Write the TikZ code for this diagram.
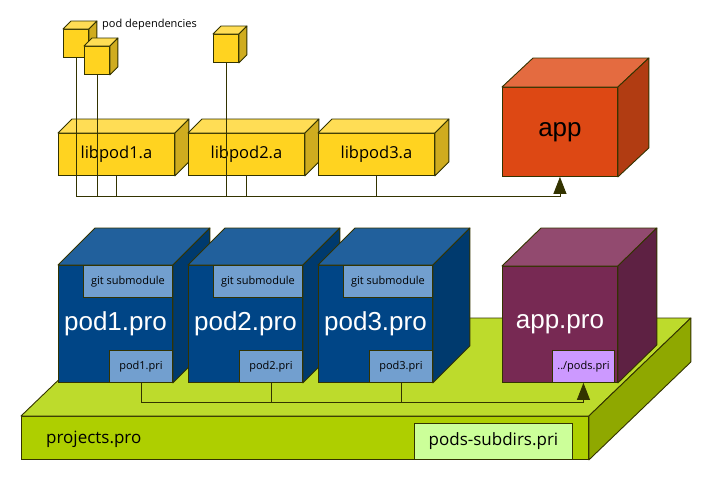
\documentclass[tikz,border=0pt]{standalone}
\usepackage{fontspec}
\setmainfont{Open Sans}
\newfontfamily\bigf{Liberation Sans}
\usetikzlibrary{arrows.meta}
\definecolor{ol}{HTML}{333300}
\definecolor{libF}{HTML}{FFD320}
\definecolor{libT}{HTML}{FFDD55}
\definecolor{libS}{HTML}{CFAC1F}
\definecolor{appF}{HTML}{DD4814}
\definecolor{appT}{HTML}{E46B40}
\definecolor{appS}{HTML}{B13C12}
\definecolor{podF}{HTML}{004586}
\definecolor{podT}{HTML}{21609C}
\definecolor{podS}{HTML}{003A6E}
\definecolor{podL}{HTML}{729FCF}
\definecolor{aproF}{HTML}{772953}
\definecolor{aproT}{HTML}{924A6F}
\definecolor{aproS}{HTML}{5E2143}
\definecolor{aproL}{HTML}{CC99FF}
\definecolor{platF}{HTML}{AECF00}
\definecolor{platT}{HTML}{BDDB2C}
\definecolor{platS}{HTML}{8FA800}
\definecolor{platL}{HTML}{CCFF99}
\newcommand\cubesides[5]{%
  \filldraw[fill=#4, draw=ol, line width=0.9pt, line join=round] (#1.north west) -- ++(#2,-#3) -- ([shift={(#2,-#3)}]#1.north east) -- (#1.north east) -- cycle;
  \filldraw[fill=#5, draw=ol, line width=0.9pt, line join=round] (#1.north east) -- ++(#2,-#3) -- ([shift={(#2,-#3)}]#1.south east) -- (#1.south east) -- cycle;
}
\tikzset{
  ln/.style={draw=ol, line width=0.9pt, rectangle, inner sep=0pt},
  face/.style={ln, anchor=north west},
  lib/.style={face, fill=libF, minimum width=116pt, minimum height=42pt, font=\fontsize{16.5}{18}\selectfont},
  dep/.style={face, fill=libF, minimum width=25pt, minimum height=28pt},
  pod/.style={face, fill=podF, minimum width=114pt, minimum height=117pt, text=white, font=\bigf\fontsize{26}{28}\selectfont},
  sub/.style={ln, font=\fontsize{11}{12}\selectfont},
  conn/.style={draw=ol, line width=0.9pt},
  tip/.style={-{Triangle[length=17pt,width=13pt]}},
}
\begin{document}
\begin{tikzpicture}[x=1pt,y=-1pt]
\useasboundingbox (0,0) rectangle (720,477);
% platform
\node[face, fill=platF, minimum width=567pt, minimum height=43pt] (plat) at (21,416) {};
\cubesides{plat}{102}{98}{platT}{platS}
\node[ln, fill=platL, minimum width=158pt, minimum height=36pt, anchor=south east, font=\fontsize{17}{19}\selectfont] (psd) at ([xshift=-16pt]plat.south east) {pods-subdirs.pri};
\node[anchor=west, inner sep=0pt, font=\fontsize{17}{19}\selectfont] (pj) at (46,439) {projects.pro};
% dependency cubes
\node[dep] (d1) at (63,29) {};
\cubesides{d1}{8}{8}{libT}{libS}
\node[dep] (d2) at (84,46) {};
\cubesides{d2}{8}{8}{libT}{libS}
\node[dep] (d3) at (213,34) {};
\cubesides{d3}{8}{8}{libT}{libS}
\node[anchor=west, inner sep=0pt, font=\fontsize{11}{12}\selectfont] (pdtxt) at (102,25) {pod dependencies};
% libs
\node[lib] (l1) at (58,133) {libpod1.a};
\cubesides{l1}{14}{14}{libT}{libS}
\node[lib] (l2) at (188,133) {libpod2.a};
\cubesides{l2}{14}{14}{libT}{libS}
\node[lib] (l3) at (318,133) {libpod3.a};
\cubesides{l3}{14}{14}{libT}{libS}
% app
\node[face, fill=appF, minimum width=115pt, minimum height=89pt, font=\bigf\fontsize{26}{28}\selectfont] (app) at (502,87) {app};
\cubesides{app}{31}{29}{appT}{appS}
% top connectors
\coordinate (bus1) at (0,196);
\draw[conn, tip] (d1.south) -- (d1.south |- bus1) -| (app.south);
\draw[conn] (d2.south) -- (d2.south |- bus1);
\draw[conn] (d3.south) -- (d3.south |- bus1);
\draw[conn] (l1.south) -- (l1.south |- bus1);
\draw[conn] (l2.south) -- (l2.south |- bus1);
\draw[conn] (l3.south) -- (l3.south |- bus1);
% pods
\node[pod] (p1) at (58,265) {pod1.pro};
\cubesides{p1}{37}{37}{podT}{podS}
\node[sub, fill=podL, minimum width=89pt, minimum height=32pt, anchor=north east] (g1) at (p1.north east) {git submodule};
\node[sub, fill=podL, minimum width=63pt, minimum height=32pt, anchor=south east] (r1) at (p1.south east) {pod1.pri};
\node[pod] (p2) at (188,265) {pod2.pro};
\cubesides{p2}{37}{37}{podT}{podS}
\node[sub, fill=podL, minimum width=89pt, minimum height=32pt, anchor=north east] (g2) at (p2.north east) {git submodule};
\node[sub, fill=podL, minimum width=63pt, minimum height=32pt, anchor=south east] (r2) at (p2.south east) {pod2.pri};
\node[pod] (p3) at (318,265) {pod3.pro};
\cubesides{p3}{37}{37}{podT}{podS}
\node[sub, fill=podL, minimum width=89pt, minimum height=32pt, anchor=north east] (g3) at (p3.north east) {git submodule};
\node[sub, fill=podL, minimum width=63pt, minimum height=32pt, anchor=south east] (r3) at (p3.south east) {pod3.pri};
% app.pro
\node[face, fill=aproF, minimum width=115pt, minimum height=116pt, text=white, font=\bigf\fontsize{26}{28}\selectfont] (apro) at (502,266) {app.pro};
\cubesides{apro}{39}{38}{aproT}{aproS}
\node[sub, fill=aproL, minimum width=62pt, minimum height=32pt, anchor=south east] (ar) at ([xshift=-3pt]apro.south east) {../pods.pri};
% bottom connectors
\coordinate (bus2) at (0,402);
\draw[conn, tip] (r1.south) -- (r1.south |- bus2) -| (ar.south);
\draw[conn] (r2.south) -- (r2.south |- bus2);
\draw[conn] (r3.south) -- (r3.south |- bus2);
\end{tikzpicture}
\end{document}
